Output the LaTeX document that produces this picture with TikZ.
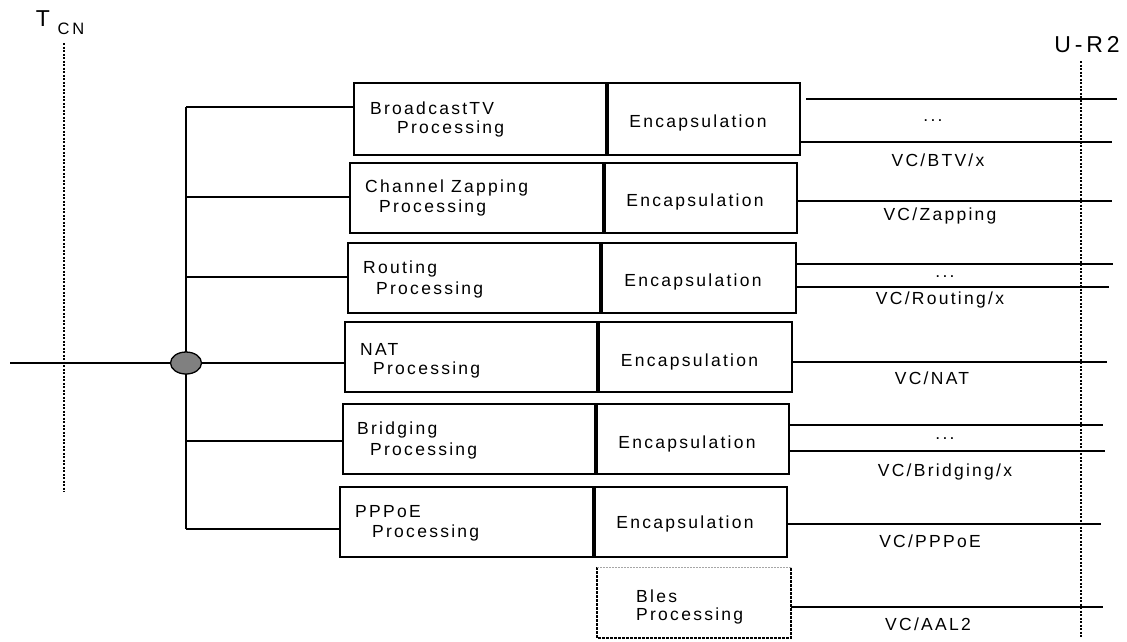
\documentclass[tikz,border=0pt]{standalone}
\usepackage{fontspec}
\setmainfont{Liberation Sans}
\newfontfamily\spaced[LetterSpace=13]{Liberation Sans}
\newfontfamily\spacedbig[LetterSpace=17]{Liberation Sans}
\usetikzlibrary{shapes.geometric}
\tikzset{
  box/.style={draw, line width=1.3pt, inner sep=0pt, outer sep=0pt, anchor=north west},
  wire/.style={line width=1.2pt},
  refline/.style={line width=2.6pt, dash pattern=on 2.2pt off 1.3pt},
  txt/.style={font=\spaced\fontsize{17.5}{20}\selectfont, inner sep=0pt, anchor=west},
  ctxt/.style={font=\spaced\fontsize{17.5}{20}\selectfont, inner sep=0pt},
  big/.style={font=\spacedbig\fontsize{23}{26}\selectfont, inner sep=0pt},
  small/.style={font=\spacedbig\fontsize{16.5}{19}\selectfont, inner sep=0pt},
}
\begin{document}
\begin{tikzpicture}[x=1pt,y=-1pt]
\useasboundingbox (0,0) rectangle (1127,641);
% reference points
\node[big] (T) at (43,19) {T};
\node[small] (CN) at (71,29) {CN};
\node[big] (UR) at (1087,45) {U-R2};
\coordinate (tTop) at (64,43); \coordinate (tBot) at (64,492);
\coordinate (uTop) at (1081,61); \coordinate (uBot) at (1081,637);
\draw[refline] (tTop) -- (tBot);
\draw[refline] (uTop) -- (uBot);
% processing boxes
\node[box, minimum width=252, minimum height=72] (p1) at (354,83) {};
\node[box, minimum width=253, minimum height=70] (p2) at (350,163) {};
\node[box, minimum width=252, minimum height=70] (p3) at (348,243) {};
\node[box, minimum width=252, minimum height=70] (p4) at (345,322) {};
\node[box, minimum width=252, minimum height=70] (p5) at (343,404) {};
\node[box, minimum width=253, minimum height=70] (p6) at (340,487) {};
% encapsulation boxes
\node[box, minimum width=192, minimum height=72] (e1) at (608,83) {};
\node[box, minimum width=192, minimum height=70] (e2) at (605,163) {};
\node[box, minimum width=194, minimum height=70] (e3) at (602,243) {};
\node[box, minimum width=193, minimum height=70] (e4) at (599,322) {};
\node[box, minimum width=192, minimum height=70] (e5) at (597,404) {};
\node[box, minimum width=192, minimum height=70] (e6) at (595,487) {};
% Bles box
\node[inner sep=0pt, outer sep=0pt, anchor=north west, minimum width=194, minimum height=71] (b7) at (597,567) {};
\draw[line width=2.8pt, dash pattern=on 2.8pt off 1.2pt] (b7.north west) -- (b7.south west) -- (b7.south east) -- (b7.north east);
\draw[gray!70, line width=1pt, dash pattern=on 1.5pt off 1.5pt] (b7.north west) -- (b7.north east);
% texts in processing boxes
\node[txt] (t1a) at (370,108) {BroadcastTV};
\node[txt] (t1b) at (397,129) {Processing};
\node[txt] (t2a) at (365,188) {Channel Zapping};
\node[txt] (t2b) at (379,208) {Processing};
\node[txt] (t3a) at (363,269) {Routing};
\node[txt] (t3b) at (376,290) {Processing};
\node[txt] (t4a) at (360,349) {NAT};
\node[txt] (t4b) at (373,370) {Processing};
\node[txt] (t5a) at (357,430) {Bridging};
\node[txt] (t5b) at (370,451) {Processing};
\node[txt] (t6a) at (355,512) {PPPoE};
\node[txt] (t6b) at (372,533) {Processing};
\node[txt] (t7a) at (636,596) {Bles};
\node[txt] (t7b) at (636,616) {Processing};
% encapsulation texts
\foreach \i/\y in {1/123,2/202,3/282,4/362,5/444,6/524}{
  \node[ctxt] (et\i) at ([xshift=-6pt]e\i.center |- 0,\y) {Encapsulation};
}
% bus
\coordinate (bTop) at (186,107);
\coordinate (b2) at (186,197);
\coordinate (b3) at (186,277);
\coordinate (b5) at (186,441);
\coordinate (bBot) at (186,529);
\coordinate (inL) at (10,363);
\draw[wire] (bTop) -- (bBot);
\draw[wire] (bTop) -- (p1.west |- bTop);
\draw[wire] (b2) -- (p2.west |- b2);
\draw[wire] (b3) -- (p3.west |- b3);
\draw[wire] (b5) -- (p5.west |- b5);
\draw[wire] (bBot) -- (p6.west |- bBot);
\node[ellipse, draw, line width=1.3pt, fill=gray, minimum width=31pt, minimum height=22pt, inner sep=0pt] (hub) at (186,363) {};
\draw[wire] (inL) -- (hub.west);
\draw[wire] (hub.east) -- (p4.west |- hub.east);
% outgoing VC lines
\coordinate (o1a) at (1117,99); \coordinate (o1b) at (1112,142);
\coordinate (o2) at (1112,201);
\coordinate (o3a) at (1113,264); \coordinate (o3b) at (1109,287);
\coordinate (o4) at (1107,362);
\coordinate (o5a) at (1103,425); \coordinate (o5b) at (1105,451);
\coordinate (o6) at (1101,524);
\coordinate (o7) at (1103,607);
\draw[wire] ([xshift=6pt]e1.east |- o1a) -- (o1a);
\draw[wire] (e1.east |- o1b) -- (o1b);
\draw[wire] (e2.east |- o2) -- (o2);
\draw[wire] (e3.east |- o3a) -- (o3a);
\draw[wire] (e3.east |- o3b) -- (o3b);
\draw[wire] (e4.east |- o4) -- (o4);
\draw[wire] (e5.east |- o5a) -- (o5a);
\draw[wire] (e5.east |- o5b) -- (o5b);
\draw[wire] (e6.east |- o6) -- (o6);
\draw[wire] (b7.east |- o7) -- (o7);
% labels
\node[ctxt] (d1) at (933,121) {...};
\node[ctxt] (l1) at (938,160) {VC/BTV/x};
\node[ctxt] (l2) at (940,216) {VC/Zapping};
\node[ctxt] (d3) at (945,277) {...};
\node[ctxt] (l3) at (940,300) {VC/Routing/x};
\node[ctxt] (l4) at (932,378) {VC/NAT};
\node[ctxt] (d5) at (945,439) {...};
\node[ctxt] (l5) at (945,472) {VC/Bridging/x};
\node[ctxt] (l6) at (930,541) {VC/PPPoE};
\node[ctxt] (l7) at (928,624) {VC/AAL2};
\end{tikzpicture}
\end{document}
